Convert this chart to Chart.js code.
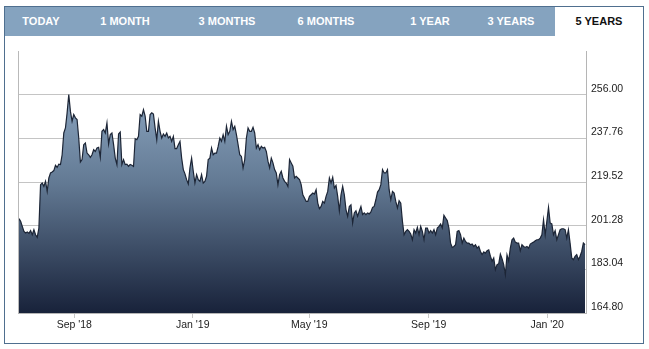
<!DOCTYPE html>
<html>
<head>
<meta charset="utf-8">
<title>Share price - 5 years</title>
<script src="https://cdn.jsdelivr.net/npm/chart.js@4.4.1/dist/chart.umd.min.js"></script>
<style>
  html, body { margin: 0; padding: 0; background: #fff; }
  body { width: 649px; height: 349px; position: relative; overflow: hidden; font-family: "Liberation Sans", Arial, sans-serif; }
  .frame { position: absolute; left: 4px; top: 6px; width: 638px; height: 336px; border: 1px solid #4f6f8f; }
  .tabs { position: absolute; left: 5px; top: 7px; width: 638px; height: 29px; background: #85a3bf; }
  .tab { position: absolute; top: 0; line-height: 29px; font-size: 11px; font-weight: bold; color: #fff; transform: translateX(-50%); white-space: nowrap; }
  .tab.active { color: #111; }
  .tab-bg { position: absolute; left: 550px; top: 0; width: 88px; height: 29px; background: #fff; }
  #chart { position: absolute; left: 0; top: 0; }
</style>
</head>
<body>
<div class="frame"></div>
<div class="tabs">
  <div class="tab-bg"></div>
  <span class="tab" style="left:36px">TODAY</span>
  <span class="tab" style="left:120px">1 MONTH</span>
  <span class="tab" style="left:222px">3 MONTHS</span>
  <span class="tab" style="left:321px">6 MONTHS</span>
  <span class="tab" style="left:425px">1 YEAR</span>
  <span class="tab" style="left:506px">3 YEARS</span>
  <span class="tab active" style="left:594px">5 YEARS</span>
</div>
<canvas id="chart" width="649" height="349"></canvas>
<script>
// closing prices, evenly sampled between the first and last session shown
const firstDate = '2018-07-06';
const lastDate = '2020-02-09';
const axisStart = '2018-07-05';
const axisEnd = '2020-02-10';

const closes = [
  204.2, 203.1, 201.0, 198.9, 198.2, 198.6, 198.1, 199.2, 197.5, 199.6,
  197.5, 196.4, 200.3, 218.4, 219.1, 217.7, 219.8, 215.6, 221.2, 223.3,
  223.7, 224.3, 226.5, 225.6, 227.0, 226.8, 230.9, 240.0, 242.1, 248.4,
  256.0, 249.0, 244.9, 247.7, 246.3, 245.6, 237.9, 227.9, 228.9, 235.1,
  235.8, 231.6, 230.9, 229.8, 230.9, 233.0, 232.3, 233.7, 234.0, 229.8,
  240.7, 241.4, 240.0, 244.2, 235.4, 239.3, 240.0, 235.1, 229.5, 226.8,
  239.6, 240.4, 226.8, 228.9, 226.8, 227.0, 226.1, 226.8, 226.5, 226.0,

  237.6, 237.2, 238.6, 247.7, 247.0, 249.7, 247.0, 240.7, 240.7, 247.7,
  248.4, 247.9, 242.1, 237.2, 244.9, 240.7, 237.9, 239.6, 238.6, 240.0,
  237.9, 238.6, 236.5, 238.6, 233.5, 233.5, 235.1, 236.5, 229.5, 224.7,
  222.9, 220.5, 218.7, 225.4, 229.5, 224.0, 219.1, 222.6, 220.5, 219.8,
  222.6, 219.1, 219.8, 221.9, 228.9, 229.5, 233.7, 230.9, 231.6, 231.6,
  234.4, 237.9, 236.5, 239.3, 236.5, 242.8, 239.3, 240.7, 244.9, 241.4,
  242.8, 239.3, 235.1, 230.9, 230.2, 225.4, 228.9, 237.9, 242.1, 240.7,

  240.7, 242.4, 240.0, 233.7, 235.1, 233.0, 234.4, 233.7, 234.0, 232.3,
  228.2, 225.4, 229.5, 227.5, 224.7, 223.3, 218.4, 222.6, 224.0, 221.2,
  219.8, 219.1, 217.7, 228.9, 227.5, 226.1, 221.2, 221.9, 221.2, 220.5,
  218.4, 214.2, 212.8, 211.4, 211.4, 213.5, 214.2, 214.9, 214.5, 216.3,
  210.7, 208.4, 209.3, 211.4, 210.7, 213.5, 215.6, 221.2, 219.1, 221.5,
  217.0, 218.1, 213.5, 207.5, 214.2, 217.7, 214.2, 208.0, 205.2, 209.3,
  210.0, 202.4, 206.6, 207.5, 205.2, 207.3, 209.3, 205.9, 206.6, 205.9,

  206.6, 206.2, 207.0, 208.9, 209.3, 212.1, 215.3, 216.3, 218.4, 224.7,
  223.3, 223.3, 224.7, 216.3, 212.1, 215.6, 214.9, 211.4, 208.7, 211.7,
  210.7, 203.1, 197.5, 198.9, 199.6, 198.9, 197.8, 195.4, 199.6, 198.2,
  200.6, 197.5, 201.0, 198.9, 195.4, 200.3, 200.3, 198.2, 199.2, 198.2,
  199.6, 197.5, 200.3, 201.0, 202.0, 200.3, 205.6, 204.5, 203.4, 200.3,
  194.0, 192.2, 192.6, 193.3, 198.9, 199.2, 197.5, 194.0, 196.1, 194.7,
  194.0, 194.0, 193.3, 193.6, 192.6, 193.3, 191.9, 192.6, 190.5, 189.2,

  190.3, 189.8, 190.8, 191.2, 188.5, 186.4, 187.8, 182.9, 185.0, 185.3,
  189.4, 187.5, 185.0, 180.8, 189.1, 186.6, 191.9, 195.4, 196.1, 194.4,
  194.0, 194.0, 190.8, 193.3, 192.6, 192.2, 192.6, 191.9, 193.6, 194.0,
  194.4, 195.0, 195.4, 195.4, 196.1, 197.5, 203.8, 197.5, 203.1, 208.9,
  202.4, 202.0, 197.5, 199.2, 195.4, 197.5, 199.6, 200.0, 200.0, 199.6,
  196.1, 199.6, 194.0, 187.8, 187.1, 188.5, 189.2, 187.1, 188.5, 190.5,
  194.0, 193.3
];

const priceTicks = [164.80, 183.04, 201.28, 219.52, 237.76, 256.00];
const priceMax = 274.24;
const monthTicks = ['2018-09-01', '2019-01-01', '2019-05-01', '2019-09-01', '2020-01-01'];
const monthLabels = ["Sep '18", "Jan '19", "May '19", "Sep '19", "Jan '20"];

const DAY = 86400000;
const dayNum = s => Date.parse(s + 'T00:00:00Z') / DAY;

const t0 = dayNum(firstDate);
const t1 = dayNum(lastDate);
const step = (t1 - t0) / (closes.length - 1);
const points = closes.map((v, i) => ({ x: t0 + i * step, y: v }));

const axisFont = { family: '"Liberation Sans", Arial, sans-serif', size: 10.5 };

// thin line down the left side of the plot
const leftEdge = {
  id: 'leftEdge',
  afterDatasetsDraw(chart) {
    const { ctx, chartArea } = chart;
    ctx.save();
    ctx.strokeStyle = '#b9b9b9';
    ctx.lineWidth = 1;
    ctx.beginPath();
    ctx.moveTo(Math.round(chartArea.left) + 0.5, chartArea.top);
    ctx.lineTo(Math.round(chartArea.left) + 0.5, chartArea.bottom);
    ctx.stroke();
    ctx.restore();
  }
};

new Chart(document.getElementById('chart'), {
  type: 'line',
  data: {
    datasets: [{
      data: points,
      borderColor: '#1c2536',
      borderWidth: 1.2,
      pointRadius: 0,
      tension: 0,
      fill: 'start',
      backgroundColor: (context) => {
        const { ctx, chartArea } = context.chart;
        if (!chartArea) return '#5f7690';
        const g = ctx.createLinearGradient(0, chartArea.top, 0, chartArea.bottom);
        g.addColorStop(0, '#9cb7d2');
        g.addColorStop(0.5, '#637a94');
        g.addColorStop(1, '#18223a');
        return g;
      }
    }]
  },
  options: {
    responsive: false,
    animation: false,
    layout: { padding: { left: 18, top: 51, right: 0, bottom: 0 } },
    plugins: { legend: { display: false }, tooltip: { enabled: false } },
    scales: {
      x: {
        type: 'linear',
        min: dayNum(axisStart),
        max: dayNum(axisEnd),
        afterBuildTicks: (scale) => { scale.ticks = monthTicks.map(d => ({ value: dayNum(d) })); },
        afterFit: (scale) => { scale.height = 36; },
        grid: { drawOnChartArea: false, drawTicks: true, tickLength: 5, color: '#c6c6c6' },
        border: { color: '#b5b5b5' },
        ticks: {
          autoSkip: false,
          maxRotation: 0,
          padding: 1,
          color: '#222',
          font: axisFont,
          callback: (value, i) => monthLabels[i]
        }
      },
      y: {
        position: 'right',
        min: priceTicks[0],
        max: priceMax,
        afterBuildTicks: (scale) => { scale.ticks = priceTicks.map(v => ({ value: v })); },
        afterFit: (scale) => { scale.width = 63; },
        grid: { color: '#c4c4c4', drawTicks: false },
        border: { color: '#b5b5b5' },
        ticks: {
          padding: 5,
          labelOffset: -6,
          color: '#222',
          font: axisFont,
          callback: (value) => value.toFixed(2)
        }
      }
    }
  },
  plugins: [leftEdge]
});
</script>
</body>
</html>
